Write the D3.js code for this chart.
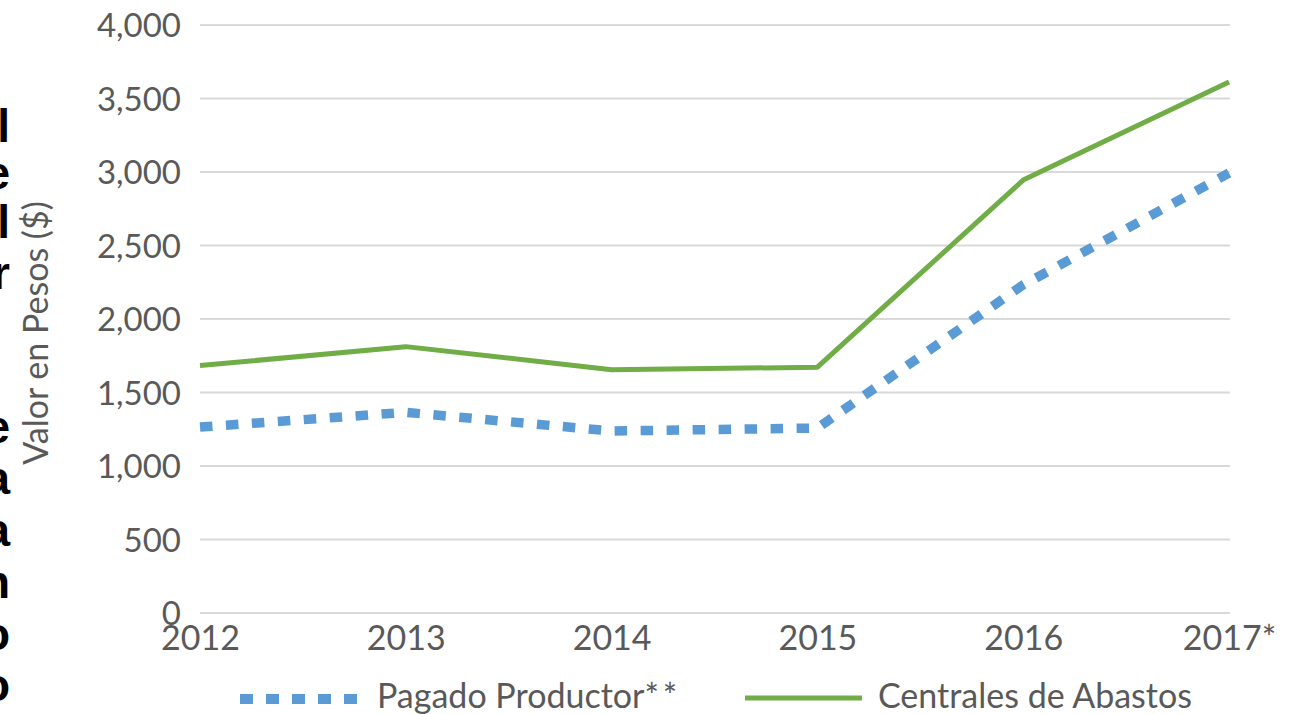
<!DOCTYPE html>
<html>
<head>
<meta charset="utf-8">
<script src="https://cdn.jsdelivr.net/npm/d3@7"></script>
<style>
  html, body { margin: 0; padding: 0; background: #fff; }
  svg { display: block; }
</style>
</head>
<body>
<svg id="chart" width="1294" height="714"></svg>
<script>
// ---- data ----
const years = ["2012", "2013", "2014", "2015", "2016", "2017*"];
const pagadoProductor = [1265, 1365, 1238, 1258, 2232, 2993];
const centralesAbastos = [1683, 1812, 1655, 1672, 2945, 3612];
const yTicks = [0, 500, 1000, 1500, 2000, 2500, 3000, 3500, 4000];
const seriesNames = ["Pagado Productor", "Centrales de Abastos"];
const sideLetters = ["l", "e", "l", "r", "e", "a", "a", "n", "o", "o"];
const sideBaselines = [142, 189, 238, 289, 443, 494, 546, 598, 650, 701];

// ---- layout ----
const svg = d3.select("#chart");
const font = "Lato, 'Open Sans', sans-serif";
const txt = "#595959";

const x = d3.scalePoint().domain(years).range([200, 1229]);
const y = d3.scaleLinear().domain([0, 4000]).range([613, 25]);

// gridlines
svg.append("g").selectAll("line").data(yTicks).join("line")
  .attr("x1", 200).attr("x2", 1230)
  .attr("y1", d => y(d)).attr("y2", d => y(d))
  .attr("stroke", "#d9d9d9").attr("stroke-width", 2);

// y axis labels
const yAxis = d3.axisLeft(y).tickValues(yTicks).tickFormat(d3.format(",")).tickSize(0).tickPadding(0);
const gy = svg.append("g").attr("transform", "translate(181,0)").call(yAxis);
gy.select(".domain").remove();
gy.selectAll("text").attr("font-family", font).attr("font-size", 33).attr("fill", txt).attr("dy", "0.36em");

// x axis labels
const xAxis = d3.axisBottom(x).tickSize(0).tickPadding(0);
const gx = svg.append("g").attr("transform", "translate(0,613)").call(xAxis);
gx.select(".domain").remove();
gx.selectAll("text").attr("font-family", font).attr("font-size", 34).attr("fill", txt).attr("dy", "1.08em").attr("dx", 0);

// y axis title
svg.append("text")
  .attr("transform", "translate(48,333) rotate(-90)")
  .attr("text-anchor", "middle")
  .attr("font-family", font).attr("font-size", 34).attr("fill", txt)
  .text("Valor en Pesos ($)");

// lines
const line = d3.line().x((d, i) => x(years[i])).y(d => y(d));
svg.append("path").datum(centralesAbastos)
  .attr("d", line).attr("fill", "none")
  .attr("stroke", "#70ad47").attr("stroke-width", 5).attr("stroke-linejoin", "round");
svg.append("path").datum(pagadoProductor)
  .attr("d", line).attr("fill", "none")
  .attr("stroke", "#5b9bd5").attr("stroke-width", 9.5).attr("stroke-dasharray", "12.5,13.5");

// legend
const leg = svg.append("g");
leg.append("line").attr("x1", 240).attr("x2", 357).attr("y1", 699).attr("y2", 699)
  .attr("stroke", "#5b9bd5").attr("stroke-width", 10).attr("stroke-dasharray", "13,13");
const t1 = leg.append("text").attr("x", 377).attr("y", 708)
  .attr("font-family", font).attr("font-size", 34).attr("fill", txt);
t1.append("tspan").text(seriesNames[0]);
t1.append("tspan").attr("letter-spacing", 4).text("**");
leg.append("line").attr("x1", 745).attr("x2", 862).attr("y1", 698).attr("y2", 698)
  .attr("stroke", "#70ad47").attr("stroke-width", 5);
leg.append("text").attr("x", 878).attr("y", 708)
  .attr("font-family", font).attr("font-size", 34).attr("fill", txt).text(seriesNames[1]);

// clipped text at left edge
svg.append("g").selectAll("text").data(sideLetters).join("text")
  .attr("x", 10).attr("y", (d, i) => sideBaselines[i])
  .attr("text-anchor", "end")
  .attr("font-family", "'Liberation Sans', Arial, sans-serif")
  .attr("font-weight", "bold")
  .attr("font-size", 46).attr("fill", "#000")
  .text(d => d);
</script>
</body>
</html>
